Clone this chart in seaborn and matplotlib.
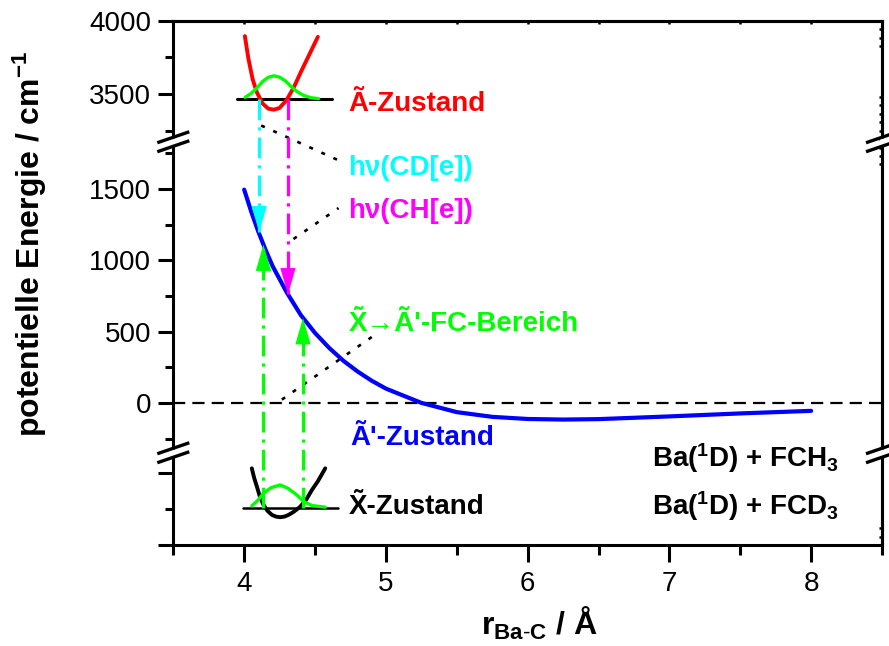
import numpy as np
import pandas as pd
import matplotlib
matplotlib.use("Agg")
import matplotlib.pyplot as plt
import seaborn as sns
from matplotlib.ticker import FixedLocator, FixedFormatter, NullFormatter

# ---------------- data ----------------
# A' state potential (blue)
r_Aprime = [4.00, 4.05, 4.10, 4.15, 4.20, 4.30, 4.40, 4.50, 4.60, 4.70, 4.80, 4.90,
            5.00, 5.10, 5.25, 5.50, 5.75, 6.00, 6.25, 6.50, 7.00, 7.50, 8.00]
E_Aprime = [1495, 1340, 1200, 1075, 960, 775, 615, 490, 385, 295, 220, 155,
            100, 60, 0, -65, -98, -113, -117, -114, -95, -74, -56]

# A state potential (red) and its wave function (green)
r_A_pot = [4.005, 4.03, 4.06, 4.09, 4.13, 4.17, 4.21, 4.25, 4.30, 4.35, 4.40, 4.45, 4.52]
E_A_pot = [3895, 3740, 3600, 3510, 3435, 3400, 3393, 3405, 3460, 3545, 3650, 3750, 3890]
r_A_wf = [4.007, 4.05, 4.09, 4.13, 4.17, 4.21, 4.25, 4.29, 4.33, 4.37, 4.42, 4.47, 4.525]
E_A_wf = [3477, 3505, 3541, 3585, 3614, 3624, 3615, 3590, 3552, 3518, 3490, 3475, 3468]
A_level_r = [3.948, 4.62]
A_level_E = [3468, 3468]

# X state potential (black) and its wave function (green)
r_X_pot = [4.054, 4.07, 4.09, 4.11, 4.136, 4.165, 4.196, 4.225, 4.254, 4.283, 4.313,
           4.35, 4.396, 4.44, 4.478, 4.52, 4.572]
E_X_pot = [-10965, -11030, -11093, -11160, -11220, -11262, -11290, -11302, -11306,
           -11302, -11290, -11268, -11232, -11180, -11116, -11055, -10965]
r_X_wf = [4.054, 4.095, 4.136, 4.19, 4.254, 4.31, 4.372, 4.419, 4.48, 4.572]
E_X_wf = [-11227, -11190, -11139, -11100, -11081, -11105, -11151, -11197, -11225, -11236]
X_level_r = [3.995, 4.66]
X_level_E = [-11239, -11239]

# transitions
down_r = [4.106, 4.309]          # hv(CD[e]) cyan, hv(CH[e]) magenta
down_tip = [1195, 760]
up_r = [4.136, 4.415]            # X -> A' FC range (green)
up_tip = [1110, 595]

# leader lines (dotted)
lead_CD_r, lead_CD_E = [4.12, 4.69], [3285, 1690]
lead_CH_r, lead_CH_E = [4.348, 4.666], [1149, 1366]
lead_FC_r, lead_FC_E = [4.266, 4.905], [23, 465]

# ticks
x_major = [4, 5, 6, 7, 8]
x_major_labels = ["4", "5", "6", "7", "8"]
x_minor = [3.5, 4.5, 5.5, 6.5, 7.5, 8.5]
y_major = [-11500, -11000, 0, 500, 1000, 1500, 3500, 4000]
y_major_labels = ["", "", "0", "500", "1000", "1500", "3500", "4000"]
y_minor = [-11250, -250, 250, 750, 1250, 1750, 3250, 3750]

# broken y axis: energy anchors -> pixel height anchors (piecewise linear)
BRK_V = [-21500, -11500, -10858, -348, 1829, 3176, 4000, 14000]
BRK_P = [-1434, 0, 92, 92.5, 403, 403.5, 524.3, 1990]

# ---------------- style ----------------
sns.set_style("ticks")
plt.rcParams["font.family"] = ["Liberation Sans", "DejaVu Sans"]
plt.rcParams["mathtext.fontset"] = "custom"
plt.rcParams["mathtext.rm"] = "Liberation Sans"
plt.rcParams["mathtext.bf"] = "Liberation Sans:bold"
plt.rcParams["mathtext.it"] = "Liberation Sans:italic"
plt.rcParams["mathtext.default"] = "bf"
for k in ("text.color", "axes.labelcolor", "xtick.color", "ytick.color", "axes.edgecolor"):
    plt.rcParams[k] = "black"

W, H = 889, 646
fig = plt.figure(figsize=(W / 100, H / 100), dpi=100)
ax_l, ax_b, ax_w, ax_h = 173.3, 101.0, 708.7, 524.3
ax = fig.add_axes([ax_l / W, ax_b / H, ax_w / W, ax_h / H])


def fwd(v):
    return np.interp(v, BRK_V, BRK_P)


def inv(p):
    return np.interp(p, BRK_P, BRK_V)


ax.set_yscale("function", functions=(fwd, inv))

BLUE, RED, GREEN, CYAN, MAG = "#0000FF", "#FF0000", "#00FF00", "#00FFFF", "#FF00FF"

# zero line
ax.axhline(0, color="black", lw=1.6, ls=(0, (5.5, 3.2)), zorder=1)

# potentials and wave functions
sns.lineplot(x=r_Aprime, y=E_Aprime, ax=ax, color=BLUE, lw=3.0, sort=False, estimator=None, zorder=5)
sns.lineplot(x=r_A_pot, y=E_A_pot, ax=ax, color=RED, lw=2.8, sort=False, estimator=None, zorder=4)
sns.lineplot(x=r_A_wf, y=E_A_wf, ax=ax, color=GREEN, lw=2.4, sort=False, estimator=None, zorder=4)
sns.lineplot(x=A_level_r, y=A_level_E, ax=ax, color="black", lw=2.2, sort=False, estimator=None, zorder=3)
sns.lineplot(x=r_X_pot, y=E_X_pot, ax=ax, color="black", lw=2.8, sort=False, estimator=None, zorder=4)
sns.lineplot(x=r_X_wf, y=E_X_wf, ax=ax, color=GREEN, lw=2.4, sort=False, estimator=None, zorder=4)
sns.lineplot(x=X_level_r, y=X_level_E, ax=ax, color="black", lw=1.8, sort=False, estimator=None, zorder=3)

# transition arrows (dash-dot shafts + filled heads)
dashdot = (0, (6.5, 2.2, 1.0, 2.2))
head = "-|>,head_length=19,head_width=5.5"
for r, tip, c in zip(down_r, down_tip, [CYAN, MAG]):
    ax.plot([r, r], [A_level_E[0], tip], color=c, lw=2.3, ls=dashdot, zorder=6)
    ax.annotate("", xy=(r, tip), xytext=(r, A_level_E[0]),
                arrowprops=dict(arrowstyle=head, color=c, lw=0, shrinkA=0, shrinkB=0,
                                mutation_scale=1), zorder=7)
for r, tip in zip(up_r, up_tip):
    ax.plot([r, r], [X_level_E[0], tip], color=GREEN, lw=2.3, ls=dashdot, zorder=6)
    ax.annotate("", xy=(r, tip), xytext=(r, X_level_E[0]),
                arrowprops=dict(arrowstyle=head, color=GREEN, lw=0, shrinkA=0, shrinkB=0,
                                mutation_scale=1), zorder=7)

# dotted leader lines
for rr, ee in [(lead_CD_r, lead_CD_E), (lead_CH_r, lead_CH_E), (lead_FC_r, lead_FC_E)]:
    ax.plot(rr, ee, color="black", lw=1.9, ls=(0, (1.5, 3.5)), zorder=2)

# labels
fs = 20
kw = dict(fontsize=fs, fontweight="bold", ha="left", va="baseline", zorder=8)
ax.text(4.735, 3382, "Ã-Zustand", color=RED, **kw)
ax.text(4.735, 1600, "hν(CD[e])", color=CYAN, **kw)
ax.text(4.735, 1296, "hν(CH[e])", color=MAG, **kw)
ax.text(4.735, 502, "X\u0303→Ã'-FC-Bereich", color=GREEN, **kw)
ax.text(4.75, -292, "Ã'-Zustand", color=BLUE, **kw)
ax.text(4.74, -11285, "X\u0303-Zustand", color="black", **kw)
ax.text(6.88, -10954, r"Ba($^{1}$D) + FCH$_{3}$", color="black", **kw)
ax.text(6.88, -11290, r"Ba($^{1}$D) + FCD$_{3}$", color="black", **kw)

# axes
ax.set_xlim(3.5, 8.5)
ax.set_ylim(-11500, 4000)
ax.xaxis.set_major_locator(FixedLocator(x_major))
ax.xaxis.set_major_formatter(FixedFormatter(x_major_labels))
ax.xaxis.set_minor_locator(FixedLocator(x_minor))
ax.yaxis.set_major_locator(FixedLocator(y_major))
ax.yaxis.set_major_formatter(FixedFormatter(y_major_labels))
ax.yaxis.set_minor_locator(FixedLocator(y_minor))
ax.yaxis.set_minor_formatter(NullFormatter())

for s in ax.spines.values():
    s.set_linewidth(2.2)
    s.set_color("black")
    s.set_visible(True)

ax.tick_params(axis="y", which="major", direction="out", length=11, width=2.2,
               labelsize=20, pad=5, left=True, right=False)
ax.tick_params(axis="y", which="minor", direction="out", length=5.5, width=2.2, left=True, right=False)
ax.tick_params(axis="x", which="major", direction="out", length=12, width=2.2,
               labelsize=20, pad=7, bottom=True, top=False)
ax.tick_params(axis="x", which="minor", direction="out", length=7, width=2.2, bottom=True, top=False)

# inner short ticks on right and top spines
ax2 = ax.secondary_yaxis("right", functions=(lambda v: v, lambda v: v))
ax2.yaxis.set_major_locator(FixedLocator(y_major + y_minor))
ax2.yaxis.set_major_formatter(NullFormatter())
ax2.tick_params(direction="in", length=2.5, width=1.8)
ax2.spines["right"].set_linewidth(2.2)
ax3 = ax.secondary_xaxis("top")
ax3.xaxis.set_major_locator(FixedLocator(x_major + x_minor))
ax3.xaxis.set_major_formatter(NullFormatter())
ax3.tick_params(direction="in", length=2.5, width=1.8)
ax3.spines["top"].set_linewidth(2.2)

ax.set_xlabel(r"r$_{Ba\text{-}C}$ / Å", fontsize=23, fontweight="bold")
ax.xaxis.set_label_coords(0.517, -0.115)
ax.set_ylabel(r"potentielle Energie / cm$^{-1}$", fontsize=23, fontweight="bold")
ax.yaxis.set_label_coords(-0.175, 0.575)

# break marks on left and right spines
def brk(xfrac, ypix):
    yf = ypix / ax_h
    dx = 16 / ax_w
    dy = 5.5 / ax_h
    off = 4.5 / ax_h
    ax.plot([xfrac, xfrac], [yf - off + dy * 0.2, yf + off - dy * 0.2], transform=ax.transAxes,
            color="white", lw=3.5, clip_on=False, zorder=20, solid_capstyle="butt")
    for o in (-off, off):
        ax.plot([xfrac - dx, xfrac + dx], [yf + o - dy, yf + o + dy], transform=ax.transAxes,
                color="black", lw=2.4, clip_on=False, zorder=21, solid_capstyle="butt")


for ypix in (fwd(1829) * 0.5 + fwd(3176) * 0.5, fwd(-10858) * 0.5 + fwd(-348) * 0.5):
    brk(0.0, float(ypix))
    brk(1.0, float(ypix))

fig.savefig("out.png", dpi=100)
